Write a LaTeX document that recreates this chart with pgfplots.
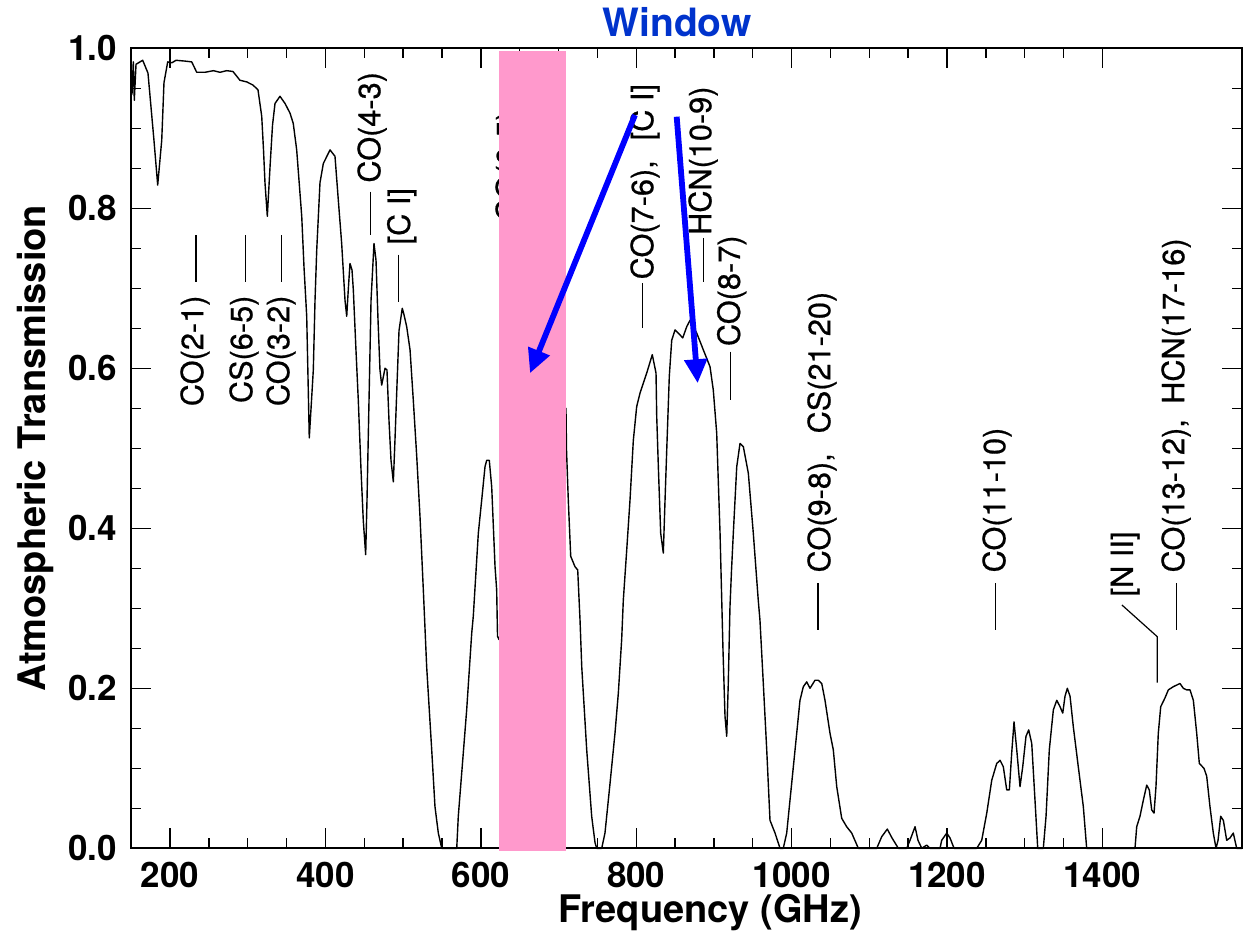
\documentclass[border=0pt]{standalone}
\usepackage{fontspec}
\setmainfont{TeX Gyre Heros}
\newfontfamily\lblff{TeX Gyre Heros}[FakeBold=0.6]
\usepackage{pgfplots}
\pgfplotsset{compat=1.18}
\usetikzlibrary{arrows.meta}
\definecolor{winpink}{RGB}{255,153,204}
\definecolor{winblue}{RGB}{0,51,204}
\newcommand{\lblfont}{\lblff\fontsize{15.35pt}{18pt}\selectfont}
\tikzset{lbl/.style={rotate=90,inner sep=0pt,font=\lblfont}}
\begin{document}
\begin{tikzpicture}
\useasboundingbox (-65.6pt,-40.85pt) rectangle (556.9pt,424.15pt);
\begin{axis}[
  name=ax, scale only axis, width=555.5pt, height=400pt,
  xmin=150, xmax=1580, ymin=0, ymax=1,
  clip=false,
  axis line style={line width=0.9pt},
  xtick={200,400,...,1400}, xticklabels={200,400,600,800,1000,1200,1400},
  ytick={0,0.2,0.4,0.6,0.8,1}, yticklabels={0.0,0.2,0.4,0.6,0.8,1.0},
  minor x tick num=3, minor y tick num=3,
  tick style={black, line width=0.7pt},
  major tick length=10pt, minor tick length=5pt,
  ticklabel style={font=\fontsize{17.5pt}{20pt}\selectfont\bfseries},
  yticklabel style={inner sep=0pt, xshift=-7pt},
  xticklabel style={inner sep=0pt, yshift=-6.5pt},
  xlabel={Frequency (GHz)}, ylabel={Atmospheric Transmission},
  label style={font=\fontsize{19pt}{22pt}\selectfont\bfseries, inner sep=0pt},
  xlabel style={at={(axis description cs:0.521,-0.0805)}, anchor=center},
  ylabel style={at={(axis description cs:-0.0864,0.5)}, anchor=center},
]
\addplot[black, line width=0.7pt, line join=round] coordinates {
(151.0,0.942) (152.7,0.983) (154.0,0.935) (156.2,0.980) (164.8,0.985) (171.6,0.969) (179.3,0.885) (184.1,0.829) (189.3,0.885) (192.2,0.957) (197.0,0.983) (202.5,0.982) (207.7,0.985) (219.2,0.984) (227.9,0.983) (234.3,0.970) (245.0,0.970) (255.7,0.972) (264.3,0.970) (272.9,0.972) (281.0,0.971) (290.0,0.960) (298.7,0.958) (306.8,0.954) (313.2,0.948) (318.0,0.915) (320.3,0.873) (322.2,0.832) (325.2,0.790) (328.7,0.852) (331.9,0.904) (335.1,0.931) (341.5,0.940) (348.0,0.931) (354.4,0.919) (358.6,0.906) (363.0,0.873) (369.5,0.790) (372.4,0.727) (375.9,0.665) (378.0,0.569) (379.2,0.513) (382.1,0.560) (384.4,0.598) (386.6,0.685) (388.8,0.748) (393.0,0.832) (397.3,0.856) (405.9,0.873) (412.3,0.865) (416.6,0.810) (420.9,0.756) (425.2,0.685) (427.4,0.665) (429.4,0.698) (431.6,0.731) (434.2,0.723) (435.9,0.698) (439.3,0.623) (442.3,0.560) (445.8,0.473) (448.7,0.410) (451.8,0.367) (453.5,0.435) (456.1,0.560) (458.7,0.685) (462.5,0.756) (465.1,0.735) (467.7,0.660) (470.2,0.598) (472.4,0.579) (476.7,0.600) (479.2,0.598) (481.8,0.535) (484.4,0.485) (487.4,0.458) (489.5,0.510) (492.1,0.579) (494.7,0.647) (498.9,0.675) (501.1,0.667) (504.6,0.652) (508.9,0.623) (513.1,0.560) (517.5,0.490) (521.7,0.415) (526.0,0.323) (530.3,0.227) (536.8,0.123) (541.0,0.052) (545.3,0.019) (549.7,0) (569.0,0) (571.0,0.040) (575.4,0.094) (581.8,0.173) (588.3,0.269) (590.3,0.290) (596.8,0.394) (601.1,0.435) (605.4,0.477) (607.6,0.485) (610.9,0.485) (614.0,0.452) (618.3,0.352) (620.4,0.323) (621.5,0.265) (623.4,0.261)
(709.6,0.550) (710.3,0.498) (712.6,0.435) (715.7,0.365) (721.2,0.352) (724.7,0.348) (727.7,0.285) (729.9,0.227) (736.3,0.123) (742.7,0.040) (747.0,0.007) (749.2,0) (755.6,0) (759.8,0.019) (766.3,0.081) (772.7,0.144) (777.0,0.194) (781.3,0.261) (783.4,0.310) (787.8,0.373) (792.0,0.435) (796.3,0.510) (800.6,0.552) (804.9,0.569) (813.5,0.594) (820.7,0.617) (825.5,0.594) (826.4,0.540) (828.5,0.477) (831.5,0.394) (834.9,0.369) (837.1,0.435) (839.3,0.498) (842.6,0.590) (845.7,0.635) (850.0,0.648) (854.2,0.644) (859.9,0.638) (865.0,0.652) (869.3,0.660) (877.9,0.644) (886.4,0.623) (895.0,0.602) (899.2,0.573) (903.6,0.519) (907.9,0.394) (910.1,0.310) (911.7,0.248) (914.3,0.165) (916.5,0.140) (918.5,0.206) (920.7,0.302) (922.7,0.348) (925.0,0.394) (929.4,0.477) (933.6,0.506) (937.9,0.502) (944.3,0.469) (950.7,0.394) (957.1,0.310) (959.3,0.285) (963.6,0.206) (968.0,0.123) (972.2,0.035) (978.7,0.019) (985.1,0) (989.3,0) (993.7,0.019) (1000.1,0.081) (1006.6,0.144) (1010.8,0.185) (1015.1,0.202) (1019.5,0.208) (1023.7,0.200) (1030.1,0.210) (1034.4,0.210) (1038.8,0.206) (1043.0,0.185) (1049.4,0.144) (1053.7,0.123) (1058.1,0.077) (1064.5,0.0375) (1070.9,0.027) (1077.4,0.019) (1085.9,0) (1109.6,0) (1116.0,0.0145) (1123.2,0.024) (1129.2,0.013) (1137.4,0) (1148.2,0) (1152.4,0.010) (1158.9,0.027) (1162.7,0.010) (1167.5,0) (1173.9,0.004) (1178.2,0) (1191.0,0) (1193.2,0.010) (1199.7,0.019) (1203.9,0.013) (1209.1,0) (1238.3,0) (1244.7,0.010) (1251.2,0.044) (1257.6,0.085) (1264.0,0.106) (1268.3,0.110) (1272.5,0.102) (1276.9,0.073) (1280.3,0.073) (1283.3,0.119) (1286.3,0.158) (1289.8,0.123) (1294.0,0.077) (1297.5,0.102) (1301.7,0.140) (1305.2,0.148) (1309.1,0.131) (1313.3,0.060) (1316.8,0) (1324.0,0) (1327.5,0.040) (1331.7,0.123) (1336.9,0.173) (1341.3,0.185) (1345.5,0.177) (1349.0,0.169) (1351.9,0.190) (1354.9,0.200) (1358.4,0.190) (1362.6,0.152) (1369.0,0.102) (1375.5,0.052) (1379.8,0) (1442.0,0) (1444.2,0.027) (1448.4,0.040) (1452.7,0.060) (1457.1,0.079) (1460.4,0.073) (1463.5,0.048) (1466.5,0.044) (1469.0,0.077) (1472.0,0.144) (1475.1,0.177) (1480.6,0.188) (1484.9,0.198) (1491.3,0.202) (1499.9,0.206) (1504.2,0.200) (1508.6,0.198) (1512.8,0.198) (1517.1,0.185) (1521.4,0.144) (1524.8,0.106) (1530.8,0.100) (1534.3,0.090) (1538.5,0.052) (1542.8,0.019) (1546.3,0) (1548.9,0.010) (1552.3,0.040) (1555.7,0.035) (1560.0,0.010) (1564.3,0.013) (1568.5,0.019) (1572.9,0) (1580,0)
};
% line labels
\begin{scope}[line width=0.6pt]
\draw (233.4,0.7666)--(233.4,0.7079);
\node[lbl, anchor=east] at (232.1,0.6916) {CO(2-1)};
\draw (297.4,0.7666)--(297.4,0.7079);
\node[lbl, anchor=east] at (295.2,0.6916) {CS(6-5)};
\draw (343.7,0.7666)--(343.7,0.7079);
\node[lbl, anchor=east] at (342.8,0.6916) {CO(3-2)};
\draw (458.3,0.8208)--(458.3,0.7666);
\node[lbl, anchor=west] at (460.0,0.8313) {CO(4-3)};
\draw (493.8,0.7421)--(493.8,0.6833);
\node[lbl, anchor=west] at (498.2,0.7541) {[C I]};
\node[lbl, anchor=west] at (637.6,0.7833) {CO(6-5)};
\draw (808.4,0.7066)--(808.4,0.6504);
\node[lbl, anchor=west] at (811.3,0.7104) {CO(7-6),\hspace{0.65em}[C I]};
\draw (886.4,0.7629)--(886.4,0.7083);
\node[lbl, anchor=west] at (886.0,0.766) {HCN(10-9)};
\draw (921.6,0.6208)--(921.6,0.5604);
\node[lbl, anchor=west] at (922.9,0.627) {CO(8-7)};
\draw (1034.0,0.3316)--(1034.0,0.2729);
\node[lbl, anchor=west] at (1039.1,0.3441) {CO(9-8),\hspace{0.65em}CS(21-20)};
\draw (1262.7,0.3316)--(1262.7,0.2729);
\node[lbl, anchor=west] at (1264.4,0.3441) {CO(11-10)};
\node[lbl, anchor=west] at (1429.2,0.3141) {[N II]};
\draw (1425.2,0.3041)--(1470.7,0.2645)--(1470.7,0.207);
\draw (1495.6,0.3316)--(1495.6,0.2729);
\node[lbl, anchor=west] at (1494.8,0.3441) {CO(13-12),\hspace{0.5em}HCN(17-16)};
\end{scope}
% window band
\fill[winpink] (623.4,-0.003) rectangle (709.6,0.997);
\draw[blue, line width=2.9pt, -{Triangle[length=12pt,width=11pt]}] (798.4,0.9166) -- (663.3,0.5938);
\draw[blue, line width=2.9pt, -{Triangle[length=12pt,width=11pt]}] (852.1,0.9145) -- (879.1,0.5813);
\node[anchor=base, inner sep=0pt, text=winblue, font=\fontsize{19.5pt}{22pt}\selectfont\bfseries] at (852.6,1.0145) {Window};
\end{axis}
\end{tikzpicture}
\end{document}
